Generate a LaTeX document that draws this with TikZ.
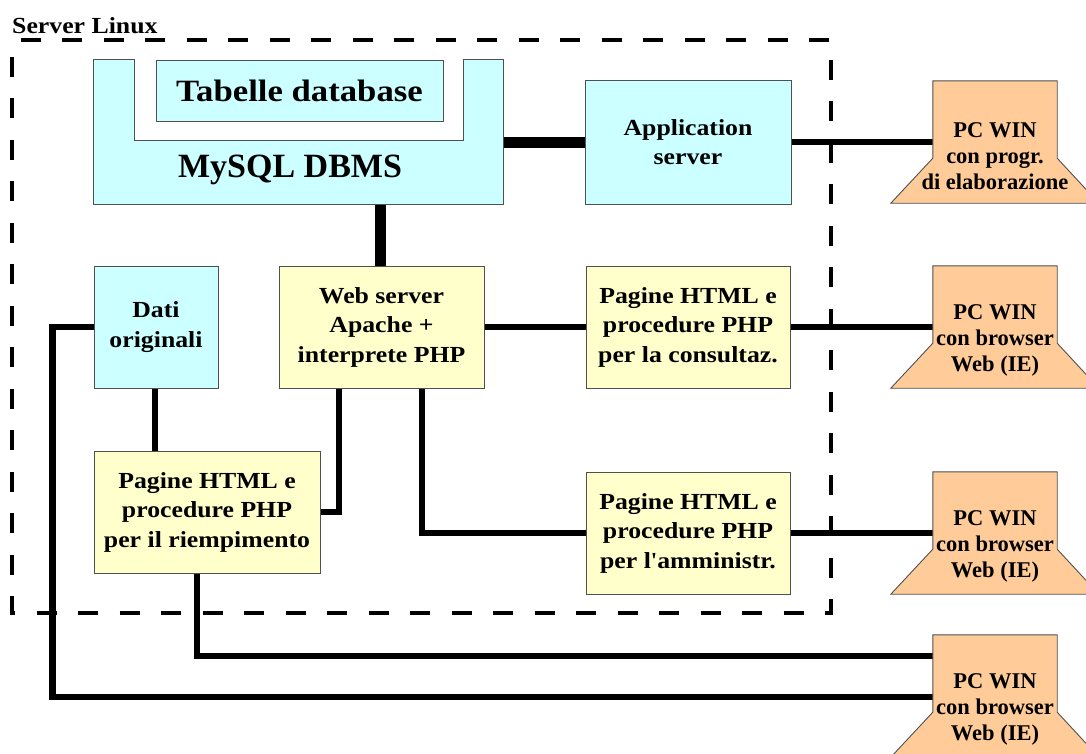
\documentclass[tikz,border=0pt]{standalone}
\usepackage{fontspec}
\setmainfont{Liberation Serif}
\newfontfamily\wideserif{Liberation Serif}[FakeStretch=1.12]
\newfontfamily\rawserif{Liberation Serif}
\usetikzlibrary{calc}
\definecolor{cyanbox}{RGB}{204,255,255}
\definecolor{yelbox}{RGB}{255,255,204}
\definecolor{pcfill}{RGB}{255,204,153}
\definecolor{edge}{RGB}{80,80,80}
\pgfdeclarelayer{background}
\pgfsetlayers{background,main}
\newcommand{\apos}{{\rawserif\bfseries\char39}}
\tikzset{
  box/.style={draw=edge, line width=0.9pt, inner sep=0pt, align=center,
    font=\wideserif\fontsize{23}{29.5}\selectfont\bfseries},
  cyanb/.style={box, fill=cyanbox},
  yelb/.style={box, fill=yelbox},
  pcbox/.style={inner sep=0pt, minimum width=124pt, minimum height=77pt},
  pctext/.style={align=center, inner sep=0pt, font=\fontsize{22.5}{26}\selectfont\bfseries},
  wire/.style={line width=6.5pt, black},
  fatwire/.style={line width=11pt, black},
  frame/.style={line width=4.5pt, dash pattern=on 20pt off 21.5pt, dash phase=25pt},
}
\begin{document}
\begin{tikzpicture}[x=1pt,y=-1pt]
\useasboundingbox (0,0) rectangle (1086,753);

\node[anchor=base west, inner sep=0pt, font=\wideserif\fontsize{23}{26}\selectfont\bfseries] (srv) at (12,33) {Server Linux};

% nodes
\node[inner sep=0pt, minimum width=409pt, minimum height=144pt] (mysql) at (298.5,132) {};
\node[cyanb, minimum width=206pt, minimum height=124pt] (app) at (688,142) {Application\\server};
\node[cyanb, minimum width=124pt, minimum height=122pt] (dati) at (156,327) {Dati\\originali};
\node[yelb, minimum width=205pt, minimum height=122pt] (web) at (381.5,327) {Web server\\Apache +\\interprete PHP};
\node[yelb, minimum width=204pt, minimum height=122pt] (cons) at (688,327) {Pagine HTML e\\procedure PHP\\per la consultaz.};
\node[yelb, minimum width=226pt, minimum height=122pt] (riemp) at (207,512) {Pagine HTML e\\procedure PHP\\per il riempimento};
\node[yelb, minimum width=204pt, minimum height=122pt] (amm) at (688,533) {Pagine HTML e\\procedure PHP\\per l\apos amministr.};

\node[pcbox] (pc1) at (995,119.5) {};
\node[pcbox] (pc2) at (995,304.5) {};
\node[pcbox] (pc3) at (995,510.5) {};
\node[pcbox] (pc4) at (995,673.5) {};
\coordinate (pc4a) at ($(pc4.north west)+(0,21)$);
\coordinate (pc4b) at ($(pc4.north west)+(0,62)$);

% MySQL shape
\draw[draw=edge, line width=0.9pt, fill=cyanbox]
  (mysql.north west) -- (mysql.south west) -- (mysql.south east) -- (mysql.north east)
  -- ++(-40,0) -- ++(0,81) -- ($(mysql.north west)+(41,81)$) -- ($(mysql.north west)+(41,0)$) -- cycle;
\node[cyanb, minimum width=287pt, minimum height=61pt, font=\wideserif\fontsize{31}{34}\selectfont\bfseries] (tab) at (299.5,90.5) {Tabelle database};
\node[inner sep=0pt, font=\fontsize{34}{38}\selectfont\bfseries] (dbms) at (290,170) {MySQL DBMS};

% PC shapes
\foreach \p/\t in {pc1/{PC WIN\\con progr.\\di elaborazione}, pc2/{PC WIN\\con browser\\Web (IE)}, pc3/{PC WIN\\con browser\\Web (IE)}, pc4/{PC WIN\\con browser\\Web (IE)}}{
  \draw[draw=edge, line width=0.9pt, fill=pcfill]
    (\p.north west) -- (\p.south west) -- ++(-42,45) -- ++(208,0) -- (\p.south east) -- (\p.north east) -- cycle;
  \node[pctext] at ($(\p.north)+(0,75)$) {\t};
}

% background: frame and connectors
\begin{pgfonlayer}{background}
\draw[frame] (12,40) rectangle (831,613);
\draw[fatwire] (app.west) -- (app.west -| mysql.east);
\draw[fatwire] ([xshift=-1.5pt]web.north) -- ([xshift=-1.5pt]web.north |- mysql.south);
\draw[wire] (app.east) -- (app.east -| pc1.west);
\draw[wire] (web.east) -- (cons.west);
\draw[wire] (cons.east) -- (cons.east -| pc2.west);
\draw[wire] (amm.east) -- (amm.east -| pc3.west);
\draw[wire] ([xshift=-42.5pt]web.south) |- (riemp.east);
\draw[wire] ([xshift=40.5pt]web.south) |- (amm.west);
\draw[wire] ([xshift=-1pt]dati.south) -- ([xshift=-1pt]dati.south |- riemp.north);
\draw[wire] ([xshift=-10pt]riemp.south) |- (pc4a);
\draw[wire] (dati.west) -- ++(-41,0) |- (pc4b);
\end{pgfonlayer}
\end{tikzpicture}
\end{document}
